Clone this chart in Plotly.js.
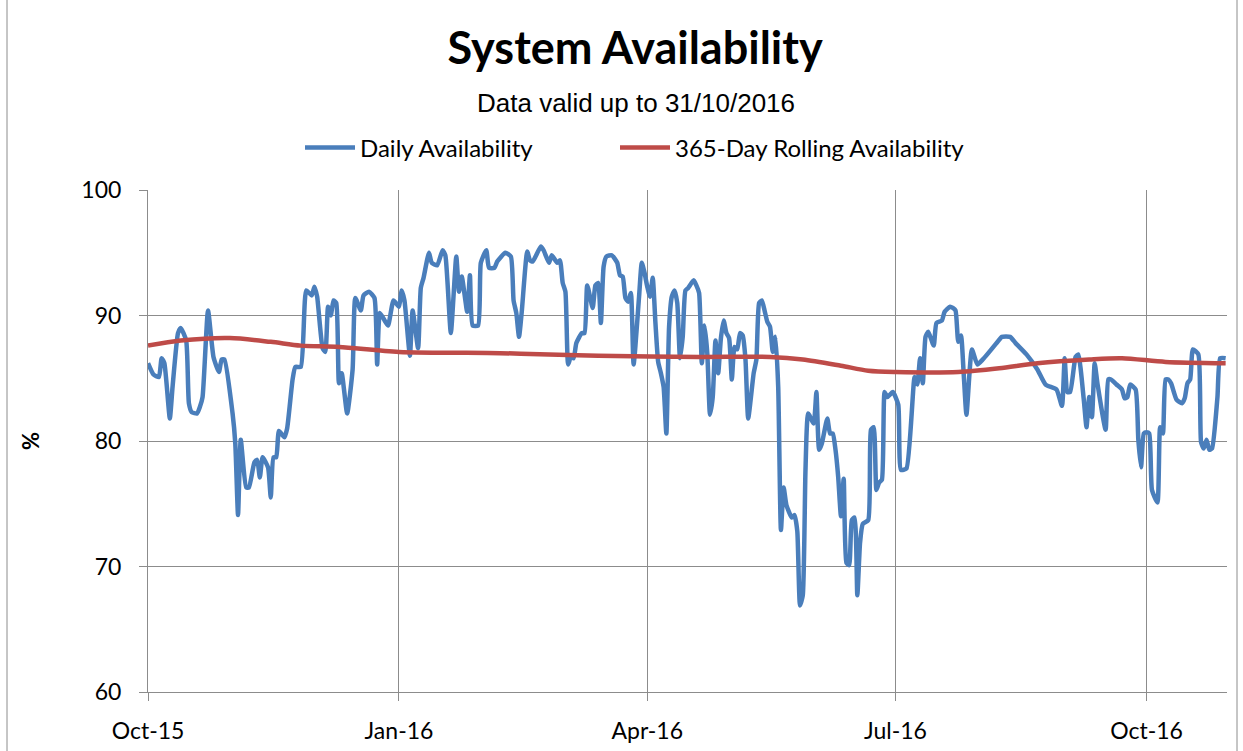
<!DOCTYPE html>
<html>
<head>
<meta charset="utf-8">
<script src="https://cdn.plot.ly/plotly-3.0.1.min.js"></script>
<style>html,body{margin:0;padding:0;background:#fff;}#chart{width:1243px;height:751px;}</style>
</head>
<body>
<div id="chart"></div>
<script>
const dailyDates = ['2015-10-01','2015-10-03','2015-10-05','2015-10-06','2015-10-07','2015-10-09','2015-10-10','2015-10-12','2015-10-13','2015-10-15','2015-10-16','2015-10-17','2015-10-19','2015-10-20','2015-10-21','2015-10-23','2015-10-25','2015-10-27','2015-10-28','2015-10-29',
'2015-11-01','2015-11-02','2015-11-03','2015-11-04','2015-11-06','2015-11-07','2015-11-09','2015-11-10','2015-11-11','2015-11-12','2015-11-14','2015-11-15','2015-11-16','2015-11-17','2015-11-18','2015-11-20','2015-11-21','2015-11-23','2015-11-24','2015-11-26','2015-11-28','2015-11-30',
'2015-12-01','2015-12-02','2015-12-04','2015-12-05','2015-12-06','2015-12-07','2015-12-08','2015-12-09','2015-12-10','2015-12-11','2015-12-13','2015-12-15','2015-12-16','2015-12-18','2015-12-19','2015-12-21','2015-12-23','2015-12-24','2015-12-25','2015-12-27','2015-12-28','2015-12-30',
'2016-01-01','2016-01-02','2016-01-03','2016-01-05','2016-01-06','2016-01-08','2016-01-09','2016-01-10','2016-01-12','2016-01-13','2016-01-15','2016-01-17','2016-01-18','2016-01-20','2016-01-22','2016-01-23','2016-01-24','2016-01-26','2016-01-27','2016-01-28','2016-01-30','2016-01-31',
'2016-02-02','2016-02-03','2016-02-05','2016-02-06','2016-02-09','2016-02-11','2016-02-12','2016-02-13','2016-02-14','2016-02-15','2016-02-17','2016-02-18','2016-02-19','2016-02-22','2016-02-23','2016-02-25','2016-02-26','2016-02-28','2016-02-29',
'2016-03-01','2016-03-02','2016-03-03','2016-03-04','2016-03-05','2016-03-06','2016-03-08','2016-03-09','2016-03-10','2016-03-12','2016-03-13','2016-03-14','2016-03-15','2016-03-16','2016-03-17','2016-03-19','2016-03-21','2016-03-22','2016-03-23','2016-03-24','2016-03-25','2016-03-26','2016-03-27','2016-03-29','2016-03-30','2016-03-31',
'2016-04-01','2016-04-02','2016-04-03','2016-04-04','2016-04-05','2016-04-06','2016-04-07','2016-04-08','2016-04-09','2016-04-10','2016-04-11','2016-04-12','2016-04-13','2016-04-14','2016-04-15','2016-04-16','2016-04-18','2016-04-19','2016-04-20','2016-04-21','2016-04-22','2016-04-23','2016-04-24','2016-04-25','2016-04-26','2016-04-27','2016-04-28','2016-04-29','2016-04-30',
'2016-05-01','2016-05-02','2016-05-03','2016-05-04','2016-05-05','2016-05-06','2016-05-07','2016-05-08','2016-05-10','2016-05-11','2016-05-12','2016-05-13','2016-05-14','2016-05-15','2016-05-16','2016-05-17','2016-05-18','2016-05-19','2016-05-20','2016-05-21','2016-05-22','2016-05-24','2016-05-25','2016-05-26','2016-05-27','2016-05-28','2016-05-29','2016-05-30',
'2016-06-01','2016-06-02','2016-06-03','2016-06-04','2016-06-06','2016-06-07','2016-06-08','2016-06-09','2016-06-10','2016-06-11','2016-06-12','2016-06-13','2016-06-14','2016-06-15','2016-06-16','2016-06-17','2016-06-18','2016-06-19','2016-06-21','2016-06-22','2016-06-23','2016-06-24','2016-06-25','2016-06-26','2016-06-27','2016-06-28','2016-06-30',
'2016-07-02','2016-07-03','2016-07-05','2016-07-08','2016-07-09','2016-07-10','2016-07-11','2016-07-12','2016-07-13','2016-07-15','2016-07-16','2016-07-18','2016-07-19','2016-07-21','2016-07-22','2016-07-23','2016-07-24','2016-07-25','2016-07-26','2016-07-27','2016-07-29','2016-07-31',
'2016-08-02','2016-08-04','2016-08-07','2016-08-09','2016-08-12','2016-08-14','2016-08-18','2016-08-22','2016-08-25','2016-08-29','2016-08-31',
'2016-09-01','2016-09-02','2016-09-03','2016-09-05','2016-09-06','2016-09-08','2016-09-09','2016-09-10','2016-09-11','2016-09-12','2016-09-13','2016-09-16','2016-09-17','2016-09-18','2016-09-20','2016-09-22','2016-09-23','2016-09-24','2016-09-25','2016-09-27','2016-09-28','2016-09-29','2016-09-30',
'2016-10-01','2016-10-02','2016-10-03','2016-10-05','2016-10-06','2016-10-07','2016-10-08','2016-10-09','2016-10-10','2016-10-12','2016-10-14','2016-10-15','2016-10-16','2016-10-17','2016-10-18','2016-10-20','2016-10-21','2016-10-22','2016-10-23','2016-10-24','2016-10-25','2016-10-27','2016-10-28','2016-10-30'];

const dailyValues = [86.2,85.3,85.1,86.6,86.2,81.8,84.3,88.6,89.0,88.0,83.0,82.3,82.2,82.7,83.5,90.4,86.7,85.5,86.5,86.5,
82.2,79.8,74.1,80.1,76.3,76.3,78.3,78.5,77.1,78.7,77.9,75.5,78.7,78.7,80.8,80.3,81.0,84.9,85.9,85.9,92.0,91.6,
92.3,91.5,87.4,87.1,90.7,90.0,91.2,91.0,84.6,85.4,82.2,85.7,91.4,90.4,91.6,91.9,91.4,86.1,90.2,89.5,89.2,91.2,
90.7,92.0,91.2,86.8,90.4,87.4,92.2,93.0,95.0,94.2,94.0,95.2,94.8,88.6,94.7,91.9,93.1,90.3,93.2,89.2,89.2,94.2,
95.2,93.8,93.8,94.3,95.0,94.7,91.2,90.2,88.3,90.3,95.1,94.4,94.3,95.5,95.2,94.2,94.8,94.2,94.4,
92.6,91.9,86.1,86.7,86.6,87.8,88.6,88.6,92.4,90.6,92.4,92.6,89.4,93.9,94.7,94.8,94.2,93.2,93.1,91.4,91.1,91.8,86.1,91.5,94.2,93.4,
92.3,91.5,93.0,89.4,86.3,85.4,84.3,80.6,89.1,91.5,92.0,91.0,86.6,88.3,92.0,92.2,92.8,92.4,91.8,86.2,89.2,87.0,82.1,83.5,88.0,85.4,88.2,89.6,88.6,
88.2,84.9,87.5,87.3,88.6,88.4,86.5,81.8,85.4,86.5,91.0,91.2,90.4,89.5,89.1,87.1,88.3,84.3,72.9,76.3,74.9,73.9,74.1,72.8,66.9,67.7,77.7,82.2,
81.4,83.9,79.3,79.8,81.8,80.6,80.6,79.3,77.1,74.0,77.0,70.3,70.1,73.7,73.9,67.7,71.9,73.4,73.7,80.9,81.1,76.1,76.7,76.9,83.9,83.5,83.9,
82.9,77.7,77.8,85.1,84.5,86.6,84.6,88.3,88.7,87.6,89.4,89.6,90.3,90.7,90.6,90.4,87.9,88.4,85.3,82.1,87.3,86.1,
86.5,87.0,87.8,88.3,88.3,87.8,86.9,85.7,84.5,84.1,82.8,
86.6,83.9,83.9,86.7,86.9,83.3,81.1,83.5,81.9,86.2,84.6,80.9,84.9,84.9,84.5,84.1,83.4,83.5,84.5,84.1,80.1,77.9,80.6,
80.7,80.6,76.1,75.1,81.1,80.6,84.9,84.9,84.6,83.3,83.0,83.4,84.6,84.9,87.3,86.9,79.9,79.4,80.1,79.3,79.4,83.5,86.6,86.6];

const rollingDates = ['2015-10-01','2015-10-13','2015-10-31','2015-11-15','2015-11-26','2015-12-10','2016-01-01','2016-02-07','2016-02-25','2016-03-14','2016-04-20','2016-05-16','2016-05-28','2016-06-11','2016-06-21','2016-07-01','2016-07-24','2016-08-08','2016-08-22','2016-09-10','2016-09-22','2016-10-08','2016-10-30'];
const rollingValues = [87.6,88.0,88.2,87.9,87.6,87.5,87.1,87.0,86.9,86.8,86.7,86.7,86.5,86.0,85.6,85.5,85.5,85.8,86.2,86.5,86.6,86.3,86.2];

const tickDates = ['2015-10-01','2016-01-01','2016-04-01','2016-07-01','2016-10-01'];
const tickLabels = ['Oct-15','Jan-16','Apr-16','Jul-16','Oct-16'];
const yTicks = [60,70,80,90,100];

const seriesNames = ['Daily Availability','365-Day Rolling Availability'];
const chartTitle = 'System Availability';
const chartSubtitle = 'Data valid up to 31/10/2016';

const gridColor = '#8c8c8c';
const textFont = 'Lato, "Noto Sans", sans-serif';

const traces = [
  {x: dailyDates, y: dailyValues, type: 'scatter', mode: 'lines', name: seriesNames[0], legend: 'legend',
   line: {color: '#4a7ebb', width: 4.5, shape: 'spline', smoothing: 0.5}},
  {x: rollingDates, y: rollingValues, type: 'scatter', mode: 'lines', name: seriesNames[1], legend: 'legend2',
   line: {color: '#be4b48', width: 4.5, shape: 'spline', smoothing: 0.8}}
];

const legendCommon = {orientation: 'h', xanchor: 'left', y: 1 + 42/502, yanchor: 'middle',
  font: {family: textFont, size: 24, color: '#000'}, bgcolor: 'rgba(0,0,0,0)', itemwidth: 50};

const layout = {
  width: 1243, height: 751,
  margin: {l: 148, r: 16, t: 190, b: 59},
  paper_bgcolor: '#ffffff', plot_bgcolor: '#ffffff',
  font: {family: textFont, size: 20, color: '#000'},
  title: {text: '<b>' + chartTitle + '</b>', font: {family: textFont, size: 45, color: '#000'},
          x: 0.511, xanchor: 'center', y: 1 - 48/751, yanchor: 'middle'},
  annotations: [{text: chartSubtitle, xref: 'paper', yref: 'paper', x: (636 - 148)/1079, y: 1 + 87/502,
    xanchor: 'center', yanchor: 'middle', showarrow: false,
    font: {family: '"Liberation Sans", Arial, sans-serif', size: 26, color: '#000'}}],
  showlegend: true,
  legend: Object.assign({}, legendCommon, {x: (300 - 148)/1079}),
  legend2: Object.assign({}, legendCommon, {x: (615 - 148)/1079}),
  xaxis: {type: 'date', range: ['2015-10-01', '2016-10-30 12:00'],
    tickvals: tickDates, ticktext: tickLabels, ticks: 'outside', ticklen: 8, tickcolor: gridColor,
    ticklabelstandoff: 10,
    showgrid: true, gridcolor: gridColor, gridwidth: 1, showline: true, linecolor: gridColor, linewidth: 1,
    zeroline: false, tickfont: {family: textFont, size: 23, color: '#000'}, fixedrange: true},
  yaxis: {range: [60, 100], tickvals: yTicks, ticks: 'outside', ticklen: 8, tickcolor: gridColor,
    ticklabelstandoff: 13,
    showgrid: true, gridcolor: gridColor, gridwidth: 1, showline: true, linecolor: gridColor, linewidth: 1,
    zeroline: false, tickfont: {family: textFont, size: 23, color: '#000'},
    title: {text: '<b>%</b>', font: {family: textFont, size: 22, color: '#000'}, standoff: 35}, fixedrange: true},
  shapes: [{type: 'rect', xref: 'paper', yref: 'paper',
    x0: (7 - 148)/1079, x1: (1237 - 148)/1079, y0: (692 - 770)/502, y1: (692 + 20)/502,
    line: {color: '#8c8c8c', width: 1}, fillcolor: 'rgba(0,0,0,0)', layer: 'below'}]
};

Plotly.newPlot('chart', traces, layout, {displayModeBar: false, staticPlot: true});
</script>
</body>
</html>
